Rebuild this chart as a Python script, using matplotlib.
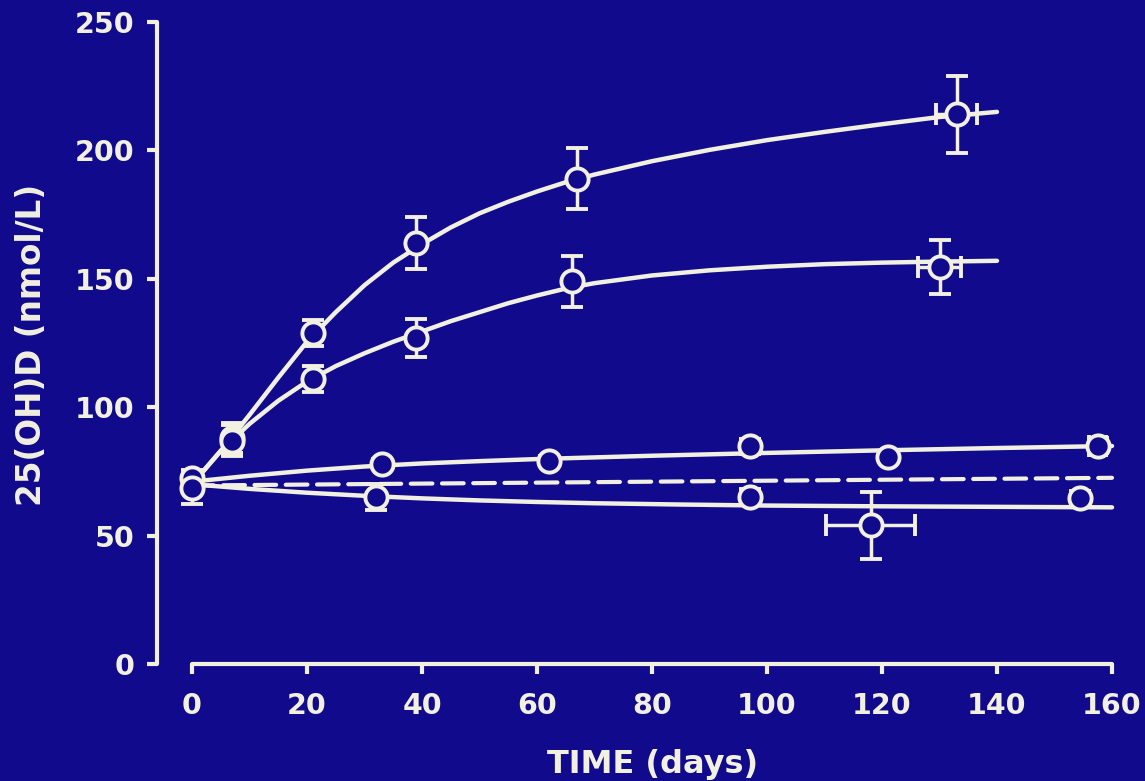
import matplotlib
matplotlib.use("Agg")
import matplotlib.pyplot as plt

# ---- measured means (25(OH)D, nmol/L) with SEM ----
baseline_days = [0, 0]
baseline_mean = [72.4, 68.5]
baseline_err = [3, 6]

high_days = [7, 21, 39, 67, 133]
high_mean = [88, 129, 164, 189, 214]
high_yerr = [6, 5, 10, 12, 15]
high_xerr = [0, 0, 0, 0, 3.6]

mid_days = [7, 21, 39, 66, 130]
mid_mean = [87, 111, 127, 149, 154.5]
mid_yerr = [6, 5, 7.5, 10, 10.5]
mid_xerr = [0, 0, 0, 0, 3.8]

low_days = [33, 62, 97, 121, 157.5]
low_mean = [78, 79, 84.8, 80.8, 85]
low_yerr = [2, 2, 3, 2, 3]
low_xerr = [0, 0, 0, 0, 1.5]

none_days = [32, 97, 118, 154.5]
none_mean = [65, 65, 54, 64.5]
none_yerr = [5, 3, 13, 3]
none_xerr = [0, 0, 7.7, 0]

# ---- fitted response curves ----
high_fit_days = [0, 5, 10, 15, 20, 25, 30, 35, 40, 45, 50, 55, 60, 65, 70,
                 80, 90, 100, 110, 120, 130, 140]
high_fit_vals = [70, 83, 97, 111.5, 125.5, 137, 147.5, 156.3, 163.5, 170, 175.5,
                 180, 184, 187.6, 190.6, 195.8, 200.2, 204, 207.2, 210.2, 213, 215]

mid_fit_days = [0, 5, 10, 15, 20, 25, 30, 35, 40, 45, 50, 55, 60, 65, 70,
                80, 90, 100, 110, 120, 130, 140]
mid_fit_vals = [70, 83, 93.5, 102.5, 110, 116, 121, 125.5, 129.5, 133.5, 137,
                140.5, 143.5, 146.2, 148.3, 151.3, 153.3, 154.7, 155.7, 156.3,
                156.7, 157]

low_fit_days = [0, 10, 20, 30, 40, 50, 60, 80, 100, 120, 140, 160]
low_fit_vals = [71, 73.3, 75.3, 76.9, 78.1, 79, 79.8, 81.1, 82.2, 83.2, 84.1, 84.9]

none_fit_days = [0, 10, 20, 30, 40, 50, 60, 70, 85, 100, 120, 140, 160]
none_fit_vals = [70, 68.2, 66.7, 65.5, 64.5, 63.7, 63.1, 62.6, 62.1, 61.7, 61.4,
                 61.2, 61]

reference_days = [0, 160]
reference_vals = [69.5, 72.5]

x_ticks = [0, 20, 40, 60, 80, 100, 120, 140, 160]
y_ticks = [0, 50, 100, 150, 200, 250]

BG = "#110A8C"
FG = "#F2F0E0"

plt.rcParams["font.family"] = ["DejaVu Sans"]
plt.rcParams["font.weight"] = "bold"

fig = plt.figure(figsize=(11.45, 7.81), dpi=100, facecolor=BG)
ax = fig.add_axes([157 / 1145, 117 / 781, 963 / 1145, 642 / 781])
ax.set_facecolor(BG)

px_per_day = 920 / 160
ax.set_xlim(-35 / px_per_day, 160 + 8 / px_per_day)
ax.set_ylim(0, 250)

line_kw = dict(color=FG, lw=3.2, solid_capstyle="round", solid_joinstyle="round",
               zorder=2, clip_on=False)
for xs, ys in [(high_fit_days, high_fit_vals), (mid_fit_days, mid_fit_vals),
               (low_fit_days, low_fit_vals), (none_fit_days, none_fit_vals)]:
    ax.plot(xs, ys, **line_kw)

ax.plot(reference_days, reference_vals, color=FG, lw=3.0, ls=(0, (5.2, 2.3)),
        dash_capstyle="round", zorder=2, clip_on=False)

eb_kw = dict(fmt="o", color=FG, ecolor=FG, elinewidth=2.5, capsize=8, capthick=2.5,
             markersize=16, markerfacecolor=BG, markeredgecolor=FG,
             markeredgewidth=2.8, zorder=4, clip_on=False)
ax.errorbar(baseline_days, baseline_mean, yerr=baseline_err, **eb_kw)
ax.errorbar(high_days, high_mean, yerr=high_yerr, xerr=high_xerr, **eb_kw)
ax.errorbar(mid_days, mid_mean, yerr=mid_yerr, xerr=mid_xerr, **eb_kw)
ax.errorbar(low_days, low_mean, yerr=low_yerr, xerr=low_xerr, **eb_kw)
ax.errorbar(none_days, none_mean, yerr=none_yerr, xerr=none_xerr, **eb_kw)

for side in ["top", "right"]:
    ax.spines[side].set_visible(False)
ax.spines["left"].set_bounds(0, 250)
ax.spines["bottom"].set_bounds(0, 160)
for side in ["left", "bottom"]:
    ax.spines[side].set_color(FG)
    ax.spines[side].set_linewidth(3.0)
    ax.spines[side].set_capstyle("round")

ax.set_xticks(x_ticks)
ax.set_yticks(y_ticks)
ax.tick_params(axis="both", colors=FG, width=3, labelsize=20.5)
ax.tick_params(axis="x", length=7, pad=13)
ax.tick_params(axis="y", length=7, pad=9)
for lab in ax.get_xticklabels() + ax.get_yticklabels():
    lab.set_fontweight("bold")
    lab.set_color(FG)

ax.set_xlabel("TIME (days)", color=FG, fontsize=23, fontweight="bold")
ax.set_ylabel("25(OH)D (nmol/L)", color=FG, fontsize=23.5, fontweight="bold")
ax.xaxis.set_label_coords(0.515, -0.133)
ax.yaxis.set_label_coords(-0.113, 0.497)

fig.savefig("out.png", dpi=100, facecolor=BG)
